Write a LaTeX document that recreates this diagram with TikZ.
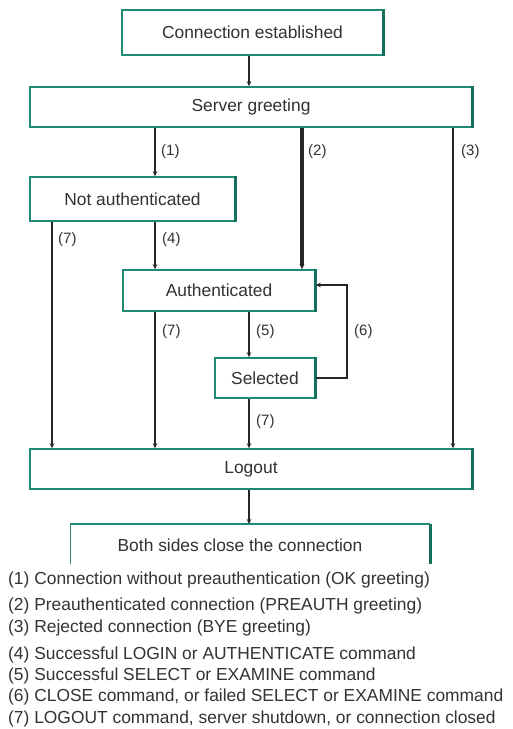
\documentclass[tikz,border=0pt]{standalone}
\usepackage{fontspec}
\setmainfont{Liberation Sans}
\usetikzlibrary{arrows.meta}
\definecolor{boxteal}{RGB}{30,138,115}
\definecolor{boxedge}{RGB}{22,110,92}
\definecolor{inkgray}{RGB}{50,50,50}
\begin{document}
\begin{tikzpicture}[x=1pt,y=-1pt,
  state/.style={draw=boxteal, line width=1.5pt, fill=white, text=inkgray,
    inner sep=0pt, font=\fontsize{17.4}{20}\selectfont},
  link/.style={draw=black!85, line width=1.1pt, -{Stealth[length=5pt,width=4.5pt]}},
  boldlink/.style={link, line width=3.2pt},
  tag/.style={anchor=west, inner sep=0pt, text=inkgray, font=\fontsize{15}{17}\selectfont},
  legend/.style={anchor=west, inner sep=0pt, text=black!80, font=\fontsize{17.4}{20}\selectfont}]

\useasboundingbox[fill=white] (0,0) rectangle (513,729);

% columns used by the vertical connectors
\coordinate (cA) at (52,0);
\coordinate (cB) at (155,0);
\coordinate (cC) at (249,0);
\coordinate (cD) at (302,0);
\coordinate (cE) at (453,0);

% states
\node[state, minimum width=261pt, minimum height=45pt] (est)     at (252.5,32.5) {Connection established};
\node[state, minimum width=442pt, minimum height=40pt] (greet)   at (251,107)    {Server greeting};
\node[state, minimum width=205pt, minimum height=44pt] (notauth) at (132.5,199)  {Not authenticated};
\node[state, minimum width=192pt, minimum height=41pt] (auth)    at (219,290.5)  {Authenticated};
\node[state, minimum width=100pt, minimum height=40pt] (sel)     at (265,378)    {Selected};
\node[state, minimum width=442pt, minimum height=40pt] (logout)  at (251,469)    {Logout};

% heavier right edge on each state box
\foreach \n in {est,greet,notauth,auth,sel,logout}
  \draw[boxedge, line width=3pt] (\n.north east) -- (\n.south east);

% final state: open bracket
\coordinate (bl) at (70,564);
\coordinate (tl) at (70,524);
\coordinate (tr) at (430,524);
\coordinate (br) at (430,564);
\coordinate (closetop) at (249,524);
\draw[boxteal!70!gray, line width=1pt] (bl) -- (tl);
\draw[boxteal, line width=2.4pt] (tl) -- (tr);
\draw[boxedge, line width=3pt] (tr) -- (br);
\node[text=inkgray, inner sep=0pt, font=\fontsize{17.4}{20}\selectfont] (closing) at (240,545)
  {Both sides close the connection};

% transitions
\draw[link] (est.south -| cC) -- (greet.north -| cC);
\draw[link] (greet.south -| cB) -- (notauth.north -| cB);
\draw[boldlink] (greet.south -| cD) -- (auth.north -| cD);
\draw[link] (greet.south -| cE) -- (logout.north -| cE);
\draw[link] (notauth.south -| cA) -- (logout.north -| cA);
\draw[link] (notauth.south -| cB) -- (auth.north -| cB);
\draw[link] (auth.south -| cB) -- (logout.north -| cB);
\draw[link] (auth.south -| cC) -- (sel.north -| cC);
\draw[link] (sel.south -| cC) -- (logout.north -| cC);
\coordinate (loop) at (347,285);
\draw[link] (sel.east) -| (loop) -- (auth.east |- loop);
\draw[link] (logout.south -| cC) -- (closetop);

% transition numbers
\node[tag] (t1)  at (161,152) {(1)};
\node[tag] (t2)  at (308,152) {(2)};
\node[tag] (t3)  at (461,152) {(3)};
\node[tag] (t7a) at (58,240)  {(7)};
\node[tag] (t4)  at (162,240) {(4)};
\node[tag] (t7b) at (162,332) {(7)};
\node[tag] (t5)  at (256,332) {(5)};
\node[tag] (t6)  at (354,332) {(6)};
\node[tag] (t7c) at (256,422) {(7)};

% key
\node[legend] (k1) at (8,580) {(1) Connection without preauthentication (OK greeting)};
\node[legend] (k2) at (8,606) {(2) Preauthenticated connection (PREAUTH greeting)};
\node[legend] (k3) at (8,628) {(3) Rejected connection (BYE greeting)};
\node[legend] (k4) at (8,655) {(4) Successful LOGIN or AUTHENTICATE command};
\node[legend] (k5) at (8,676) {(5) Successful SELECT or EXAMINE command};
\node[legend] (k6) at (8,697) {(6) CLOSE command, or failed SELECT or EXAMINE command};
\node[legend] (k7) at (8,719) {(7) LOGOUT command, server shutdown, or connection closed};
\end{tikzpicture}
\end{document}
